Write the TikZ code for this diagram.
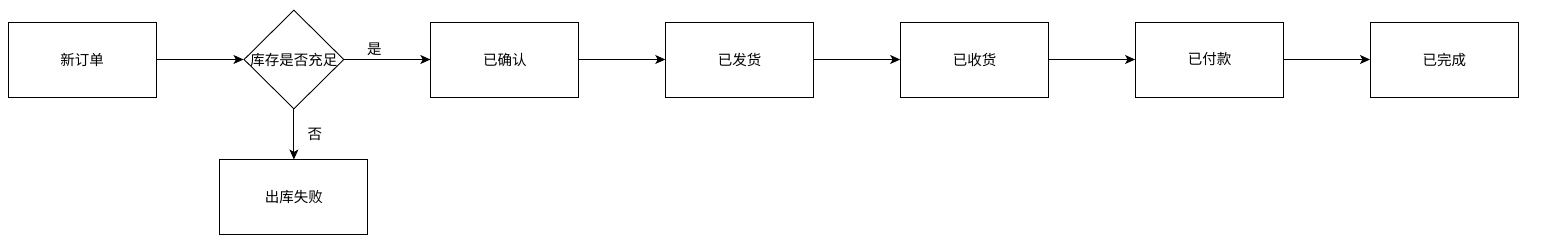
\documentclass[tikz,border=0pt]{standalone}
\usepackage{fontspec}
\setmainfont{Noto Sans CJK SC}
\usetikzlibrary{arrows.meta,positioning,shapes.geometric}
\tikzset{
  stbox/.style={draw, minimum width=148pt, minimum height=75pt, inner sep=0pt, font=\fontsize{14.5}{17}\selectfont},
  decide/.style={draw, diamond, minimum width=100pt, minimum height=99pt, inner sep=0pt},
  arr/.style={-{Stealth[length=10pt,width=9pt,inset=2.5pt]}, line width=0.9pt},
  lbl/.style={font=\fontsize{14.5}{17}\selectfont},
}
\begin{document}
\begin{tikzpicture}[x=1pt,y=-1pt,node distance=86pt, line width=0.9pt]
  \useasboundingbox (0,0) rectangle (1541,247);
  \node[stbox] (new) at (82,59.5) {新订单};
  \node[decide, right=87pt of new, label={[lbl]center:库存是否充足}] (chk) {};
  \node[stbox, right=of chk] (conf) {已确认};
  \node[stbox, right=of conf] (ship) {已发货};
  \node[stbox, right=of ship] (recv) {已收货};
  \node[stbox, right=of recv] (paid) {已付款};
  \node[stbox, right=of paid] (done) {已完成};
  \node[stbox, below=50pt of chk] (fail) {出库失败};
  \draw[arr] (new) -- (chk);
  \draw[arr] (chk) -- node[lbl, above, pos=0.35] {是} (conf);
  \draw[arr] (chk) -- node[lbl, right=10pt] {否} (fail);
  \draw[arr] (conf) -- (ship);
  \draw[arr] (ship) -- (recv);
  \draw[arr] (recv) -- (paid);
  \draw[arr] (paid) -- (done);
\end{tikzpicture}
\end{document}
